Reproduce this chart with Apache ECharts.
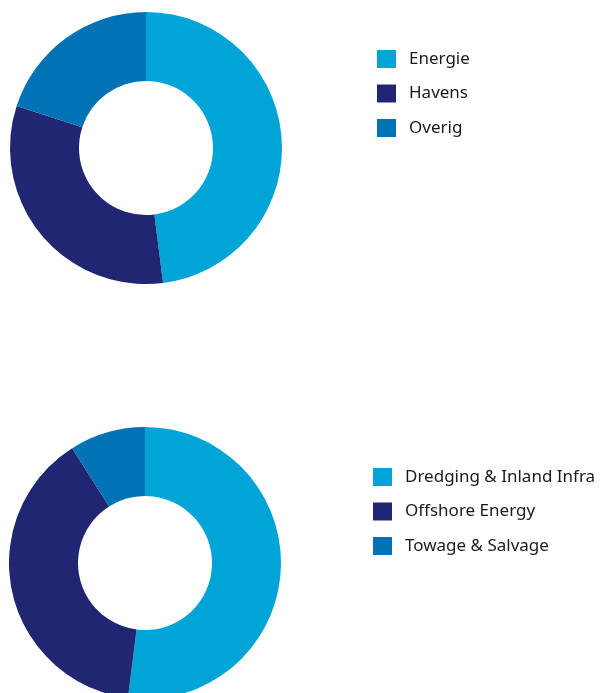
<!DOCTYPE html>
<html>
<head>
<meta charset="utf-8">
<script src="https://cdn.jsdelivr.net/npm/echarts@6/dist/echarts.min.js"></script>
<style>
  html, body { margin: 0; padding: 0; background: #fff; }
  #chart { width: 600px; height: 693px; }
</style>
</head>
<body>
<div id="chart"></div>
<script>
// Segment shares (%)
const marketCategories = ['Energie', 'Havens', 'Overig'];
const marketValues = [48, 32, 20];

const divisionCategories = ['Dredging & Inland Infra', 'Offshore Energy', 'Towage & Salvage'];
const divisionValues = [52, 39, 9];

const palette = ['#00a4d6', '#202672', '#0073b6'];

function toData(names, values) {
  return names.map((n, i) => ({ name: n, value: values[i], itemStyle: { color: palette[i] } }));
}

const legendBase = {
  orient: 'vertical',
  icon: 'rect',
  itemWidth: 19,
  itemHeight: 18,
  itemGap: 16.5,
  padding: 0,
  selectedMode: false,
  textStyle: {
    fontFamily: '"Noto Sans", sans-serif',
    fontSize: 17,
    color: '#1a1a1a',
    lineHeight: 18,
    padding: [0, 0, 0, 8]
  }
};

const pieBase = {
  type: 'pie',
  radius: [67, 136],
  startAngle: 90,
  clockwise: true,
  label: { show: false },
  labelLine: { show: false },
  silent: true,
  animation: false,
  itemStyle: { borderWidth: 0 }
};

const chart = echarts.init(document.getElementById('chart'), null, { renderer: 'canvas' });
chart.setOption({
  animation: false,
  legend: [
    Object.assign({}, legendBase, { left: 377, top: 50, data: marketCategories }),
    Object.assign({}, legendBase, { left: 373, top: 468, data: divisionCategories })
  ],
  series: [
    Object.assign({}, pieBase, { name: 'markt', center: [146, 148], data: toData(marketCategories, marketValues) }),
    Object.assign({}, pieBase, { name: 'divisie', center: [145, 563], data: toData(divisionCategories, divisionValues) })
  ]
});
</script>
</body>
</html>
